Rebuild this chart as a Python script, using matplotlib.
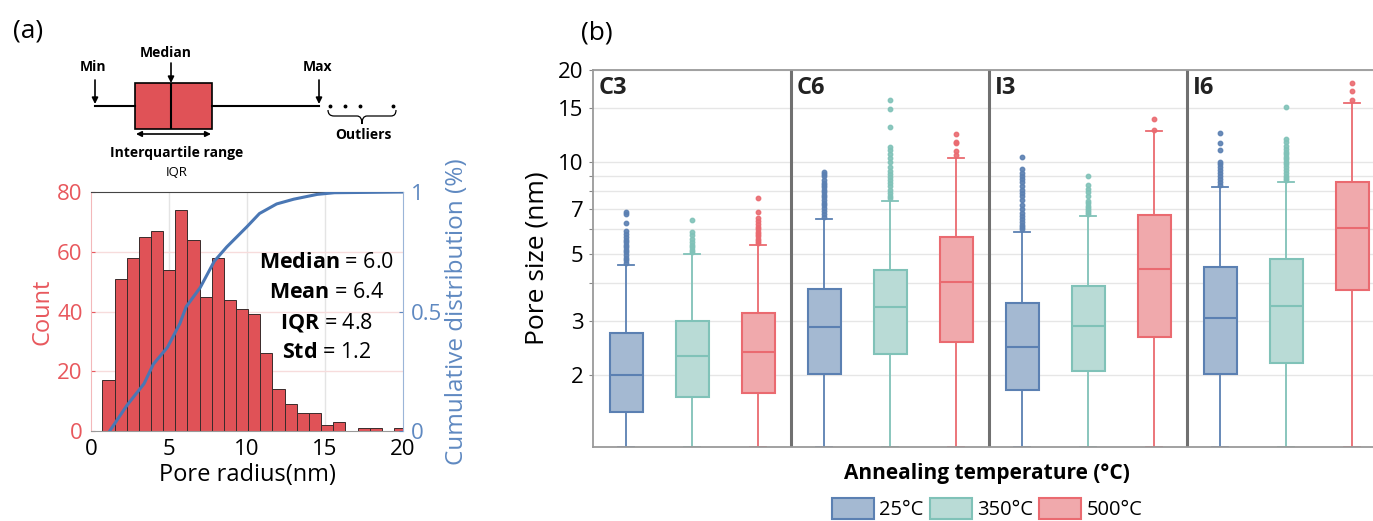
import matplotlib
matplotlib.use("Agg")
import matplotlib.pyplot as plt
import numpy as np
from matplotlib.patches import Patch, PathPatch
from matplotlib.path import Path
from matplotlib.ticker import FixedLocator, FixedFormatter
from matplotlib.transforms import blended_transform_factory

plt.rcParams['font.family'] = ['Open Sans', 'DejaVu Sans']
plt.rcParams['mathtext.fontset'] = 'custom'
plt.rcParams['mathtext.rm'] = 'Open Sans'
plt.rcParams['mathtext.bf'] = 'Open Sans:bold'

# ---------------- data: panel (a) ----------------
hist_counts = [17, 51, 58, 65, 67, 54, 74, 64, 45, 58, 44, 41, 39, 26, 14, 9, 6, 6, 2, 3, 0, 1, 1, 0, 1]
hist_start, hist_stop = 0.73, 20.2   # bin range
cdf_x = [1.2, 2.3, 3.4, 4.0, 4.9, 5.7, 6.1, 7.0, 7.9, 8.7, 10.0, 10.8, 11.9, 13.0, 14.5, 15.6, 20.0]
cdf_y = [0.0, 0.107, 0.198, 0.28, 0.35, 0.45, 0.52, 0.60, 0.71, 0.77, 0.855, 0.91, 0.95, 0.97, 0.99, 0.997, 1.0]
stats_lines = [("Median", "6.0"), ("Mean", "6.4"), ("IQR", "4.8"), ("Std", "1.2")]

# schematic box (drawn in pixel-like units)
demo_box = dict(whislo=95, q1=135, med=171, q3=212, whishi=319, fliers=[330, 345, 360, 393])

# ---------------- data: panel (b) ----------------
groups = ["C3", "C6", "I3", "I6"]
temps = ["25°C", "350°C", "500°C"]
q1 = [[1.51, 1.69, 1.74], [2.02, 2.34, 2.57], [1.78, 2.06, 2.67], [2.02, 2.19, 3.79]]
med = [[2.00, 2.31, 2.37], [2.87, 3.35, 4.03], [2.47, 2.89, 4.45], [3.08, 3.37, 6.05]]
q3 = [[2.75, 3.01, 3.18], [3.82, 4.42, 5.68], [3.45, 3.90, 6.68], [4.53, 4.79, 8.58]]
whis_hi = [[4.59, 4.99, 5.34], [6.48, 7.45, 10.3], [5.90, 6.66, 12.6], [8.29, 8.58, 15.6]]
whis_lo = [[1.16, 1.16, 1.16], [1.16, 1.16, 1.16], [1.16, 1.16, 1.16], [1.16, 1.16, 1.16]]
outliers = [
    [[4.65, 4.75, 4.85, 4.95, 5.05, 5.15, 5.25, 5.35, 5.45, 5.55, 5.65, 5.8, 5.95, 6.3, 6.75, 6.86],
     [5.05, 5.15, 5.25, 5.35, 5.45, 5.6, 5.75, 5.9, 6.43],
     [5.4, 5.5, 5.6, 5.7, 5.8, 5.9, 6.0, 6.1, 6.25, 6.4, 6.55, 6.85, 7.62]],
    [[6.6, 6.75, 6.9, 7.05, 7.2, 7.35, 7.5, 7.65, 7.8, 7.95, 8.1, 8.25, 8.4, 8.55, 8.7, 9.0, 9.15, 9.28],
     [7.6, 7.75, 7.9, 8.1, 8.3, 8.5, 8.7, 8.9, 9.1, 9.3, 9.6, 10.0, 10.3, 10.6, 10.9, 11.2, 13.0, 14.9, 15.9],
     [10.5, 10.85, 11.5, 11.6, 12.3]],
    [[6.0, 6.1, 6.2, 6.35, 6.5, 6.65, 6.8, 7.0, 7.2, 7.5, 7.7, 7.9, 8.1, 8.3, 8.6, 8.8, 9.0, 9.2, 9.5, 10.4],
     [6.75, 6.85, 6.95, 7.05, 7.15, 7.3, 7.45, 7.7, 7.95, 8.15, 8.4, 8.98],
     [12.7, 13.8]],
    [[8.4, 8.6, 8.8, 9.0, 9.2, 9.4, 9.6, 9.8, 10.0, 10.9, 11.5, 12.4],
     [8.7, 8.85, 9.0, 9.2, 9.4, 9.6, 9.8, 10.0, 10.2, 10.4, 10.6, 10.8, 11.0, 11.3, 11.6, 11.85, 15.1],
     [16.0, 17.1, 18.1]],
]
ytick_vals = [2, 3, 4, 5, 6, 7, 8, 9, 10, 15, 20]
ytick_labels = ["2", "3", "", "5", "", "7", "", "", "10", "15", "20"]

edge_cols = ["#5b80b2", "#80c2b8", "#ea6a70"]
fill_cols = ["#a4b9d2", "#b9dbd6", "#f0a9ac"]

W, H = 1373, 521
fig = plt.figure(figsize=(W / 100, H / 100), dpi=100)


def px_rect(x0, y0, x1, y1):
    return [x0 / W, 1 - y1 / H, (x1 - x0) / W, (y1 - y0) / H]


# ---------------- panel (a): schematic ----------------
ax_s = fig.add_axes(px_rect(80, 40, 410, 185))
ax_s.set_xlim(80, 410)
ax_s.set_ylim(185, 40)
ax_s.axis("off")
ax_s.bxp([demo_box], positions=[106], widths=46, orientation="horizontal",
         patch_artist=True, showcaps=False,
         boxprops=dict(facecolor="#e05257", edgecolor="black", lw=1.2),
         medianprops=dict(color="black", lw=1.5),
         whiskerprops=dict(color="black", lw=1.5),
         flierprops=dict(marker="o", markersize=1.8, markerfacecolor="black", markeredgecolor="black"))
arrow = dict(arrowstyle="-|>", color="black", lw=1.2, mutation_scale=9, shrinkA=0, shrinkB=0)
for x, y0, y1 in [(demo_box["whislo"], 80, 104), (demo_box["med"], 63, 83), (demo_box["whishi"], 80, 104)]:
    ax_s.annotate("", xy=(x, y1), xytext=(x, y0), arrowprops=arrow)
ax_s.annotate("", xy=(demo_box["q1"] + 1, 134), xytext=(demo_box["q3"] - 1, 134),
              arrowprops=dict(arrowstyle="<|-|>", color="black", lw=1.2, mutation_scale=8,
                              shrinkA=0, shrinkB=0))
lab = dict(fontsize=10, fontweight="bold", ha="center", va="center")
ax_s.text(93, 67, "Min", **lab)
ax_s.text(166, 53, "Median", **lab)
ax_s.text(318, 67, "Max", **lab)
ax_s.text(177, 153, "Interquartile range", **lab)
ax_s.text(363, 135, "Outliers", **lab)
brace = Path([(328, 110), (328, 116), (334, 116), (357, 116), (362, 116), (362, 124),
              (362, 116), (367, 116), (391, 116), (396, 116), (396, 110)],
             [Path.MOVETO, Path.CURVE3, Path.CURVE3, Path.LINETO, Path.CURVE3, Path.CURVE3,
              Path.CURVE3, Path.CURVE3, Path.LINETO, Path.CURVE3, Path.CURVE3])
ax_s.add_patch(PathPatch(brace, facecolor="none", edgecolor="black", lw=0.9))
fig.text(177 / W, 1 - 172 / H, "IQR", fontsize=9.5, ha="center", va="center")

# ---------------- panel (a): histogram ----------------
red_txt = "#e8585d"
blue_txt = "#5f89c1"
ax_h = fig.add_axes(px_rect(91, 192, 403, 431))
edges = np.linspace(hist_start, hist_stop, len(hist_counts) + 1)
ax_h.bar(edges[:-1], hist_counts, width=np.diff(edges), align="edge",
         color="#e05257", edgecolor="#3b2b2b", lw=0.7, zorder=2)
ax_h.set_xlim(0, 20)
ax_h.set_ylim(0, 80)
ax_h.set_xticks([0, 5, 10, 15, 20])
ax_h.set_yticks([0, 20, 40, 60, 80])
for v in [5, 10, 15]:
    ax_h.axvline(v, color="#e4e4e4", lw=1, zorder=0)
for v in [20, 40, 60]:
    ax_h.axhline(v, color="#f7dcdc", lw=1, zorder=0)
ax_h.tick_params(axis="x", length=0, labelsize=16, pad=6, colors="black")
ax_h.tick_params(axis="y", direction="in", length=3, labelsize=16, colors=red_txt, pad=6)
ax_h.spines["left"].set_color("#f3b8ba")
ax_h.spines["top"].set_color("#444444")
ax_h.spines["bottom"].set_color("#999999")
ax_h.spines["right"].set_visible(False)
ax_h.set_xlabel("Pore radius(nm)", fontsize=17, labelpad=2)
ax_h.set_ylabel("Count", fontsize=17, color=red_txt, labelpad=2)
for i, (name, val) in enumerate(stats_lines):
    ax_h.text(0.756, 0.707 - i * 0.1255, r"$\mathbf{%s}$ = %s" % (name, val),
              transform=ax_h.transAxes, fontsize=15.5, ha="center", va="center", zorder=5)

ax_c = ax_h.twinx()
ax_c.plot(cdf_x, cdf_y, color="#4a77b4", lw=2.2, zorder=3)
ax_c.set_ylim(0, 1)
ax_c.set_yticks([0, 0.5, 1])
ax_c.set_yticklabels(["0", "0.5", "1"])
ax_c.tick_params(axis="y", direction="in", length=3, labelsize=16, colors=blue_txt, pad=6)
for s in ["left", "top", "bottom"]:
    ax_c.spines[s].set_visible(False)
ax_c.spines["right"].set_color("#9bb5d8")
ax_c.set_ylabel("Cumulative distribution (%)", fontsize=17.5, color=blue_txt, labelpad=2)

# ---------------- panel (b): box plots ----------------
ax_b = fig.add_axes(px_rect(593, 70, 1385, 447))
ax_b.set_yscale("log")
ax_b.set_ylim(1.16, 20)
ax_b.set_xlim(0, 3 * len(groups))
for t in range(len(temps)):
    stats = []
    for g in range(len(groups)):
        stats.append(dict(whislo=whis_lo[g][t], q1=q1[g][t], med=med[g][t], q3=q3[g][t],
                          whishi=whis_hi[g][t], fliers=outliers[g][t]))
    pos = [3 * g + 0.5 + t for g in range(len(groups))]
    ax_b.bxp(stats, positions=pos, widths=0.5, patch_artist=True, manage_ticks=False,
             boxprops=dict(facecolor=fill_cols[t], edgecolor=edge_cols[t], lw=1.5),
             medianprops=dict(color=edge_cols[t], lw=1.5),
             whiskerprops=dict(color=edge_cols[t], lw=1.3),
             capprops=dict(color=edge_cols[t], lw=1.3),
             flierprops=dict(marker="o", markersize=3.2, markerfacecolor=edge_cols[t],
                             markeredgecolor=edge_cols[t], alpha=0.9))
ax_b.yaxis.set_major_locator(FixedLocator(ytick_vals))
ax_b.yaxis.set_major_formatter(FixedFormatter(ytick_labels))
ax_b.yaxis.set_minor_locator(FixedLocator([]))
ax_b.grid(axis="y", color="#e6e6e6", lw=1)
ax_b.set_axisbelow(True)
ax_b.set_xticks([])
ax_b.tick_params(axis="y", length=3, color="#888888", labelsize=16, pad=4)
for s in ax_b.spines.values():
    s.set_color("#9a9a9a")
    s.set_linewidth(1.3)
for g in range(1, len(groups)):
    ax_b.axvline(3 * g, color="#707070", lw=2.2)
trans = blended_transform_factory(ax_b.transData, ax_b.transAxes)
for g, name in enumerate(groups):
    ax_b.annotate(name, xy=(3 * g, 1), xycoords=trans, xytext=(4, -13), textcoords="offset points",
                  fontsize=17, fontweight="bold", color="#222222", ha="left", va="center")
ax_b.set_ylabel("Pore size (nm)", fontsize=19, labelpad=6)

fig.text(987 / W, 1 - 474 / H, "Annealing temperature (°C)", fontsize=15, fontweight="bold",
         ha="center", va="center")
handles = [Patch(facecolor=fill_cols[t], edgecolor=edge_cols[t], lw=1.5) for t in range(len(temps))]
fig.legend(handles, temps, loc="center", bbox_to_anchor=(987 / W, 1 - 509 / H), ncol=3,
           frameon=False, fontsize=14.5, handlelength=2.1, handleheight=1.2,
           handletextpad=0.25, columnspacing=0.3, borderaxespad=0, borderpad=0)

fig.text(28 / W, 1 - 31 / H, "(a)", fontsize=19, ha="center", va="center")
fig.text(597 / W, 1 - 33 / H, "(b)", fontsize=19, ha="center", va="center")

fig.savefig("out.png", dpi=100)
